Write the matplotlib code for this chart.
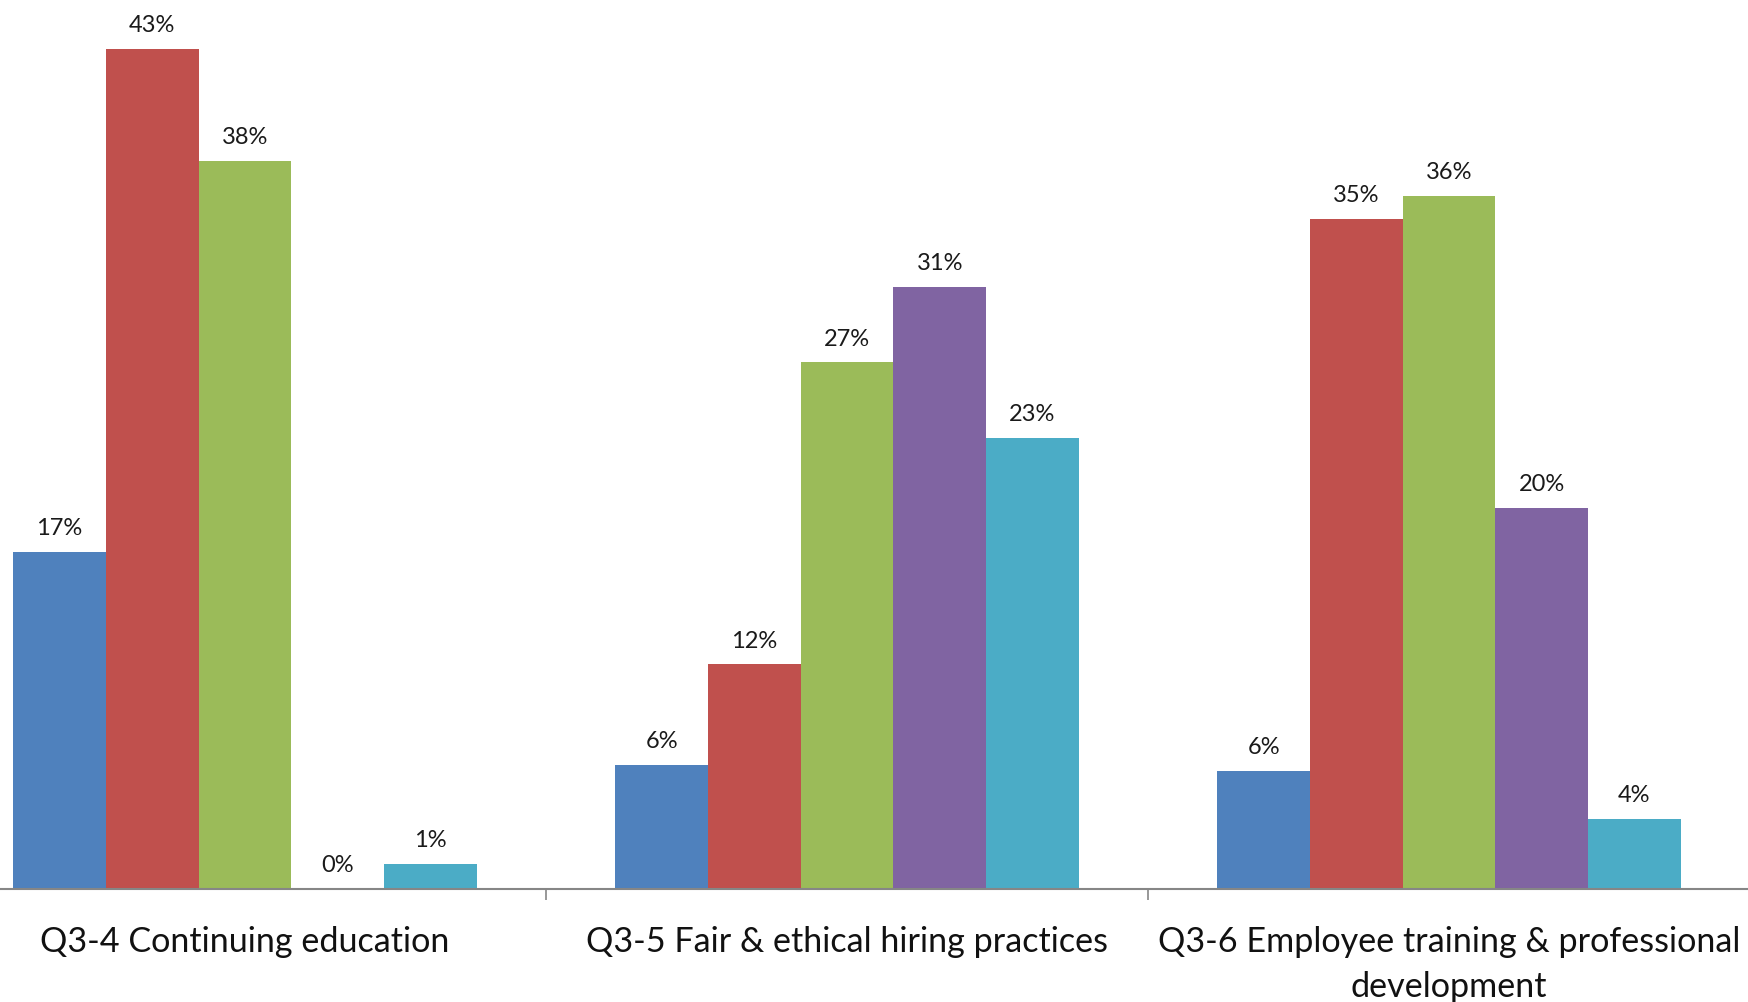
import matplotlib
matplotlib.use("Agg")
import matplotlib.pyplot as plt
import numpy as np

plt.rcParams['font.family'] = ['Lato', 'DejaVu Sans']

categories = ["Q3-4 Continuing education",
              "Q3-5 Fair & ethical hiring practices",
              "Q3-6 Employee training & professional\ndevelopment"]
series_names = ["S1", "S2", "S3", "S4", "S5"]
s1 = [17.4, 6.4, 6.1]
s2 = [43.4, 11.6, 34.6]
s3 = [37.6, 27.2, 35.8]
s4 = [0.0, 31.1, 19.7]
s5 = [1.3, 23.3, 3.6]
series = [s1, s2, s3, s4, s5]
colors = ["#4F81BD", "#C0504D", "#9BBB59", "#8064A2", "#4BACC6"]

W, H = 1748, 1003
fig = plt.figure(figsize=(W / 100, H / 100), dpi=100)
base_px = 890
ax = fig.add_axes([0, (H - base_px) / H, 1, base_px / H])

x = np.arange(len(categories))
bw = 0.154
n = len(series)
for i, (vals, c) in enumerate(zip(series, colors)):
    pos = x + (i - (n - 1) / 2) * bw
    bars = ax.bar(pos, vals, width=bw, color=c, edgecolor='none', label=series_names[i])
    ax.bar_label(bars, labels=[f"{v:.0f}%" for v in vals], padding=10,
                 fontsize=17, color="#1a1a1a")

px_per_unit = 602.0
ax.set_xlim(-245 / px_per_unit, (W - 245) / px_per_unit)
ax.set_ylim(0, base_px / 19.36)

for side in ['left', 'right', 'top']:
    ax.spines[side].set_visible(False)
ax.spines['bottom'].set_color('#868686')
ax.spines['bottom'].set_linewidth(1.5)
ax.set_yticks([])
ax.set_xticks(x)
ax.set_xticklabels(categories, fontsize=24.6, color="#111111", linespacing=1.5)
ax.tick_params(axis='x', which='major', length=0, pad=26)
ax.set_xticks([0.5, 1.5], minor=True)
ax.tick_params(axis='x', which='minor', length=8, width=1.2, color='#868686')

fig.savefig("out.png", dpi=100, facecolor='white')
